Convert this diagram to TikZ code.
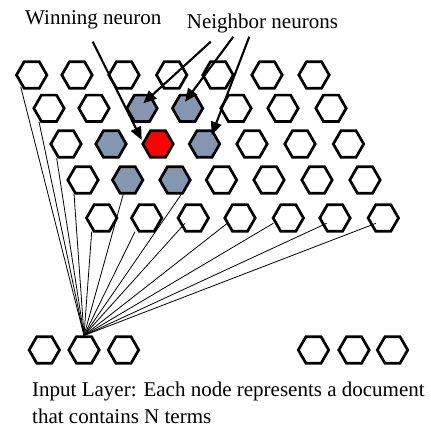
\documentclass[tikz,border=0pt]{standalone}
\usepackage{fontspec}
\setmainfont{Liberation Serif}
\usetikzlibrary{shapes.geometric,arrows.meta,calc}
\definecolor{nbrfill}{HTML}{8496B0}
\definecolor{winfill}{HTML}{FF0000}
\begin{document}
\begin{tikzpicture}[x=1pt,y=-1pt,
  hexcell/.style={regular polygon, regular polygon sides=6, minimum size=30.4pt,
    inner sep=0pt, draw=black, line width=2.7pt, fill=white},
  cell23/.style={fill=nbrfill}, cell24/.style={fill=nbrfill},
  cell32/.style={fill=nbrfill}, cell34/.style={fill=nbrfill},
  cell42/.style={fill=nbrfill}, cell43/.style={fill=nbrfill},
  cell33/.style={fill=winfill},
  link/.style={line width=0.8pt, draw=black},
  pointer/.style={line width=2.1pt, draw=black, -{Triangle[length=13pt,width=11pt]}},
  lbl/.style={font=\fontsize{21}{26}\selectfont, inner sep=0pt, anchor=base west}]
\useasboundingbox (0,0) rectangle (431,427);
% output-layer grid
\foreach \r/\yy/\xs in {
  1/75/{31.7,77,124,171.7,218,267,314},
  2/108.3/{49,94,142,187.6,236,283,331},
  3/144/{66,111,158,204.5,252,300,348.5},
  4/180/{83,127.7,175,221.5,269,317,365},
  5/218/{101.7,146.7,193.3,240,288.3,335,383.3}}{
  \foreach \xx [count=\c] in \xs {
    \node[hexcell, cell\r\c/.try] (h\r\c) at (\xx,\yy) {};
  }
}
% input layer
\foreach \xx [count=\c] in {44.3,84,123.5,313.5,354,392.5}{
  \node[hexcell] (in\c) at (\xx,350) {};
}
% connections from one input node
\foreach \n/\dx/\dy in {11/-11/11.7, 21/-10/13.4, 31/-9.3/14.3, 41/-9/13.5,
  42/-4.4/14, 43/7/13.3, 51/-10/13.7, 52/-11.7/13.7, 53/-8.3/5.3,
  54/-12.7/5.3, 55/-15/5.3, 56/-8.3/5.3, 57/-7.3/5.3}{
  \draw[link] (in2.north) -- ($(h\n)+(\dx,\dy)$);
}
% labels
\node[lbl] (winlbl) at (25,25) {Winning neuron};
\node[lbl] (nbrlbl) at (186.7,28.3) {Neighbor neurons};
\node[lbl] (inlbla) at (32,397) {Input Layer: Each node represents a document};
\node[lbl] (inlblb) at (32,423) {that contains N terms};
% arrows
\coordinate (wstart) at (92.7,41.7);
\coordinate (nstarta) at (210.7,41.7);
\coordinate (nstartb) at (233.3,36.7);
\coordinate (nstartc) at (249.3,36.7);
\draw[pointer] (wstart) -- ($(h33)+(-16.3,-4)$);
\draw[pointer] (nstarta) -- ($(h23)+(1.3,-5)$);
\draw[pointer] (nstartb) -- ($(h24)+(-2.6,-6.6)$);
\draw[pointer] (nstartc) -- ($(h34)+(7.2,-9)$);
\end{tikzpicture}
\end{document}
